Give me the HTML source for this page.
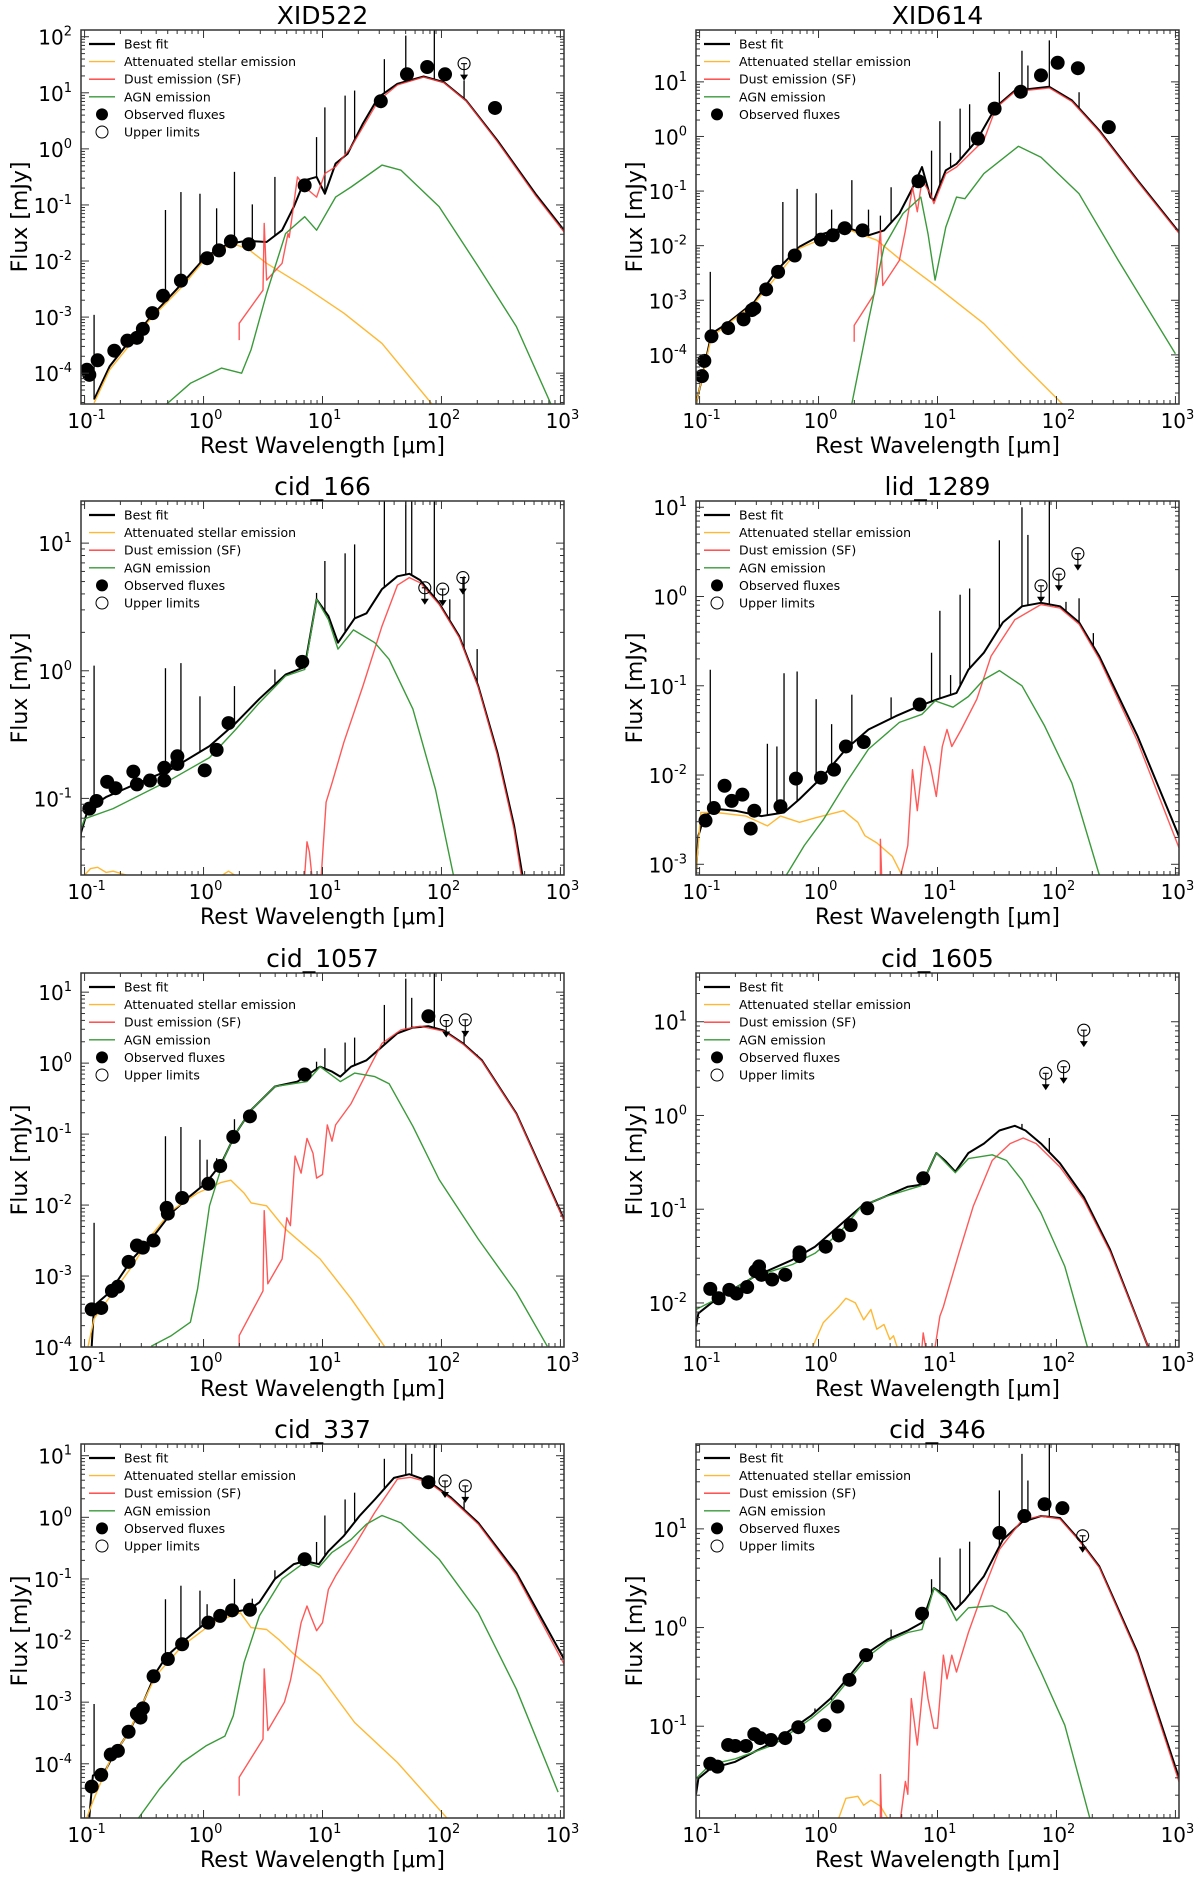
<!DOCTYPE html>
<html><head><meta charset="utf-8"><style>
html,body{margin:0;padding:0;background:#fff}
svg{display:block}
text{font-family:"DejaVu Sans","Liberation Sans",sans-serif;fill:#000}
</style></head><body>
<svg id="fig" width="1200" height="1881" viewBox="0 0 1200 1881" xmlns="http://www.w3.org/2000/svg"></svg>
<script>
// ---- data: [log10 wavelength (um), log10 flux (mJy)] ----
const p1Best=[[-0.92,-4.47],[-0.79,-3.88],[-0.66,-3.53],[-0.44,-2.99],[-0.18,-2.40],[0.02,-1.92],[0.21,-1.69],[0.37,-1.64],[0.53,-1.66],[0.66,-1.45],[0.76,-1.03],[0.85,-0.56],[0.95,-0.50],[1.02,-0.80],[1.11,-0.26],[1.21,-0.09],[1.34,0.45],[1.47,0.92],[1.63,1.16],[1.85,1.29],[2.02,1.19],[2.21,0.86],[2.47,0.15],[2.79,-0.80],[3.03,-1.45]];
const p1Dust=[[0.30,-3.41],[0.30,-3.11],[0.50,-2.52],[0.51,-1.33],[0.53,-2.34],[0.66,-2.04],[0.71,-1.51],[0.72,-1.58],[0.79,-0.50],[0.85,-0.68],[0.95,-0.86],[1.02,-0.44],[1.11,-0.32],[1.24,0.03],[1.47,0.86],[1.63,1.14],[1.85,1.28],[2.02,1.18],[2.21,0.85],[2.47,0.13],[2.79,-0.83],[3.03,-1.48]];
const p1Stellar=[[-0.92,-4.53],[-0.79,-3.94],[-0.44,-3.02],[-0.18,-2.46],[0.02,-1.95],[0.24,-1.69],[0.37,-1.78],[0.53,-2.04],[0.85,-2.46],[1.18,-2.93],[1.5,-3.47],[1.92,-4.55]];
const p1Agn=[[-0.31,-4.55],[-0.11,-4.18],[0.15,-3.91],[0.32,-4.0],[0.40,-3.58],[0.53,-2.58],[0.69,-1.51],[0.85,-1.21],[0.95,-1.45],[1.11,-0.86],[1.24,-0.68],[1.5,-0.29],[1.66,-0.38],[1.98,-1.03],[2.31,-2.10],[2.63,-3.17],[2.92,-4.55]];
const p1Lines=[[-0.92,-2.96],[-0.32,-1.09],[-0.19,-0.77],[-0.03,-0.80],[0.11,-1.06],[0.26,-0.41],[0.41,-0.99],[0.60,-0.50],[0.95,0.21],[1.02,0.74],[1.19,0.95],[1.27,1.04],[1.52,1.60],[1.70,2.02],[1.94,2.2],[2.19,1.22]];
const p1Obs=[[-0.98,-3.94],[-0.96,-4.03],[-0.89,-3.77],[-0.75,-3.6],[-0.64,-3.42],[-0.56,-3.37],[-0.51,-3.21],[-0.43,-2.93],[-0.34,-2.62],[-0.19,-2.35],[0.03,-1.95],[0.13,-1.81],[0.23,-1.65],[0.38,-1.70],[0.85,-0.65],[1.49,0.85],[1.71,1.33],[1.88,1.46],[2.03,1.33],[2.45,0.73]];
const p1Upper=[[2.19,1.52]];

const p2Best=[[-1.03,-4.9],[-0.99,-4.52],[-0.9,-3.61],[-0.77,-3.43],[-0.54,-3.03],[-0.35,-2.45],[-0.16,-2.02],[0.04,-1.78],[0.23,-1.66],[0.42,-1.81],[0.55,-1.72],[0.68,-1.41],[0.78,-0.99],[0.87,-0.56],[0.94,-1.11],[0.97,-1.17],[1.07,-0.62],[1.16,-0.5],[1.33,-0.07],[1.49,0.54],[1.65,0.84],[1.94,0.91],[2.13,0.66],[2.36,0.11],[2.68,-0.80],[3.04,-1.78]];
const p2Dust=[[0.30,-3.76],[0.30,-3.46],[0.47,-2.88],[0.52,-1.72],[0.54,-2.73],[0.68,-2.27],[0.73,-1.72],[0.79,-0.93],[0.83,-1.38],[0.87,-0.80],[0.94,-1.05],[0.97,-1.23],[1.07,-0.68],[1.16,-0.56],[1.39,-0.07],[1.49,0.52],[1.65,0.82],[1.94,0.89],[2.13,0.64],[2.36,0.09],[2.68,-0.82],[3.04,-1.80]];
const p2Stellar=[[-1.03,-4.9],[-0.9,-3.67],[-0.54,-3.06],[-0.16,-2.05],[0.23,-1.69],[0.49,-1.9],[0.68,-2.24],[1.0,-2.76],[1.39,-3.43],[1.71,-4.16],[2.05,-4.9]];
const p2Agn=[[0.28,-4.9],[0.42,-3.37],[0.55,-2.02],[0.71,-1.41],[0.86,-1.11],[0.92,-1.78],[0.98,-2.63],[1.07,-1.66],[1.16,-1.11],[1.23,-1.14],[1.39,-0.68],[1.68,-0.18],[1.87,-0.38],[2.19,-1.05],[2.52,-2.27],[3.0,-3.98]];
const p2Lines=[[-0.91,-2.48],[-0.3,-1.2],[-0.18,-0.96],[-0.02,-1.04],[0.11,-1.34],[0.28,-0.80],[0.42,-1.34],[0.52,-1.45],[0.61,-0.93],[0.95,-0.26],[1.02,0.28],[1.11,-0.3],[1.19,0.51],[1.27,0.59],[1.52,1.18],[1.71,1.57],[1.76,1.3],[1.94,1.76],[2.19,0.81]];
const p2Obs=[[-0.98,-4.39],[-0.96,-4.11],[-0.9,-3.66],[-0.76,-3.51],[-0.63,-3.35],[-0.56,-3.18],[-0.54,-3.15],[-0.44,-2.8],[-0.34,-2.48],[-0.2,-2.18],[0.02,-1.89],[0.12,-1.81],[0.22,-1.68],[0.37,-1.72],[0.84,-0.82],[1.34,-0.04],[1.48,0.51],[1.7,0.82],[1.87,1.12],[2.01,1.35],[2.18,1.25],[2.44,0.17]];
const p2Upper=[];

const p3Best=[[-1.05,-1.6],[-1.03,-1.27],[-0.97,-1.08],[-0.82,-0.99],[-0.6,-0.9],[-0.27,-0.77],[0.05,-0.59],[0.27,-0.41],[0.47,-0.22],[0.69,-0.03],[0.85,0.03],[0.95,0.56],[1.05,0.43],[1.13,0.22],[1.27,0.41],[1.37,0.45],[1.5,0.64],[1.63,0.74],[1.73,0.76],[1.82,0.71],[1.98,0.53],[2.15,0.27],[2.31,-0.12],[2.47,-0.64],[2.61,-1.21],[2.68,-1.6]];
const p3Dust=[[0.85,-1.6],[0.87,-1.34],[0.89,-1.42],[0.91,-1.6],[0.99,-1.6],[1.03,-1.03],[1.08,-0.88],[1.18,-0.56],[1.34,-0.12],[1.5,0.35],[1.63,0.67],[1.73,0.73],[1.82,0.69],[1.98,0.52],[2.15,0.26],[2.31,-0.13],[2.47,-0.66],[2.61,-1.24],[2.67,-1.6]];
const p3Stellar=[[-1.0,-1.6],[-0.95,-1.55],[-0.89,-1.54],[-0.82,-1.58],[-0.76,-1.57],[-0.65,-1.6]];
const p3Stellar2=[[0.16,-1.6],[0.21,-1.57],[0.26,-1.6]];
const p3Agn=[[-1.05,-1.29],[-1.0,-1.16],[-0.76,-1.08],[-0.27,-0.85],[0.05,-0.68],[0.27,-0.46],[0.47,-0.25],[0.69,-0.04],[0.85,0.01],[0.95,0.56],[1.05,0.40],[1.13,0.17],[1.26,0.32],[1.44,0.22],[1.56,0.09],[1.76,-0.30],[1.95,-0.93],[2.1,-1.6]];
const p3Lines=[[-0.92,0.04],[-0.32,0.02],[-0.19,0.06],[-0.03,-0.2],[0.26,-0.12],[0.6,0.01],[0.95,0.61],[1.02,0.86],[1.19,0.92],[1.27,0.99],[1.52,1.4],[1.7,1.4],[1.75,1.4],[1.94,1.4],[2.07,0.56],[2.19,0.74],[2.3,0.17]];
const p3Obs=[[-0.96,-1.08],[-0.9,-1.02],[-0.81,-0.87],[-0.74,-0.92],[-0.59,-0.79],[-0.56,-0.89],[-0.45,-0.86],[-0.33,-0.86],[-0.33,-0.76],[-0.22,-0.67],[-0.22,-0.73],[0.01,-0.78],[0.11,-0.62],[0.21,-0.41],[0.83,0.07]];
const p3Upper=[[1.86,0.65],[2.01,0.64],[2.18,0.73]];

const p4Best=[[-1.03,-3.09],[-1.01,-2.68],[-0.96,-2.46],[-0.86,-2.38],[-0.7,-2.4],[-0.48,-2.46],[-0.29,-2.42],[-0.16,-2.27],[0.04,-2.01],[0.23,-1.71],[0.42,-1.49],[0.65,-1.34],[0.84,-1.23],[1.0,-1.15],[1.16,-1.08],[1.26,-0.82],[1.39,-0.63],[1.55,-0.29],[1.71,-0.11],[1.87,-0.07],[2.03,-0.11],[2.19,-0.29],[2.36,-0.67],[2.68,-1.56],[3.04,-2.72]];
const p4Dust=[[0.52,-3.12],[0.52,-2.72],[0.53,-3.12],[0.69,-3.12],[0.71,-3.02],[0.75,-2.79],[0.79,-1.94],[0.83,-2.4],[0.89,-1.68],[0.94,-1.9],[0.99,-2.24],[1.04,-1.68],[1.08,-1.49],[1.12,-1.68],[1.2,-1.49],[1.33,-1.15],[1.45,-0.67],[1.65,-0.26],[1.87,-0.09],[2.03,-0.13],[2.19,-0.31],[2.36,-0.70],[2.68,-1.62],[3.04,-2.85]];
const p4Stellar=[[-1.03,-3.09],[-0.99,-2.42],[-0.86,-2.42],[-0.61,-2.46],[-0.43,-2.57],[-0.32,-2.46],[-0.16,-2.53],[-0.03,-2.48],[0.21,-2.4],[0.33,-2.53],[0.39,-2.68],[0.49,-2.76],[0.62,-2.91],[0.7,-3.12]];
const p4Agn=[[-0.27,-3.12],[-0.12,-2.79],[0.04,-2.5],[0.23,-2.09],[0.42,-1.71],[0.68,-1.41],[0.87,-1.32],[0.98,-1.17],[1.13,-1.24],[1.26,-1.12],[1.39,-0.93],[1.52,-0.83],[1.71,-1.0],[1.9,-1.45],[2.13,-2.09],[2.36,-3.12]];
const p4Lines=[[-0.91,-0.82],[-0.43,-1.65],[-0.35,-1.68],[-0.29,-0.86],[-0.18,-0.84],[-0.02,-1.15],[0.11,-1.43],[0.28,-1.1],[0.61,-1.13],[0.95,-0.63],[1.02,-0.16],[1.11,-0.88],[1.19,0.02],[1.27,0.09],[1.52,0.63],[1.71,1.0],[1.76,0.69],[1.94,1.07],[2.08,-0.06],[2.19,-0.02],[2.31,-0.41]];
const p4Obs=[[-0.95,-2.51],[-0.88,-2.37],[-0.79,-2.12],[-0.73,-2.29],[-0.64,-2.22],[-0.57,-2.6],[-0.54,-2.4],[-0.32,-2.35],[-0.19,-2.04],[0.02,-2.03],[0.13,-1.94],[0.23,-1.68],[0.38,-1.63],[0.85,-1.21]];
const p4Upper=[[1.87,0.12],[2.02,0.25],[2.18,0.48]];

const p5Best=[[-0.94,-3.99],[-0.92,-3.42],[-0.79,-3.23],[-0.6,-2.76],[-0.44,-2.48],[-0.27,-2.11],[-0.11,-1.87],[0.02,-1.69],[0.15,-1.41],[0.27,-0.99],[0.4,-0.66],[0.6,-0.33],[0.79,-0.26],[0.87,-0.17],[0.98,-0.05],[1.08,-0.12],[1.15,-0.19],[1.24,-0.05],[1.37,0.04],[1.5,0.23],[1.63,0.42],[1.76,0.5],[1.89,0.52],[2.02,0.46],[2.18,0.28],[2.34,0.04],[2.63,-0.71],[3.03,-2.2]];
const p5Dust=[[0.3,-3.99],[0.3,-3.84],[0.5,-3.21],[0.51,-2.08],[0.54,-3.11],[0.66,-2.76],[0.7,-2.18],[0.73,-2.29],[0.77,-1.31],[0.82,-1.55],[0.87,-1.06],[0.92,-1.27],[0.95,-1.62],[1.0,-1.57],[1.04,-0.87],[1.08,-1.1],[1.11,-0.87],[1.24,-0.57],[1.37,-0.14],[1.5,0.28],[1.66,0.47],[1.82,0.52],[2.02,0.45],[2.18,0.27],[2.34,0.03],[2.63,-0.72],[3.03,-2.22]];
const p5Stellar=[[-0.97,-3.99],[-0.92,-3.6],[-0.76,-3.23],[-0.6,-2.86],[-0.44,-2.43],[-0.27,-2.08],[-0.05,-1.83],[0.15,-1.68],[0.23,-1.65],[0.34,-1.83],[0.4,-1.97],[0.53,-2.01],[0.69,-2.34],[0.98,-2.76],[1.24,-3.32],[1.52,-3.99]];
const p5Agn=[[-0.44,-3.99],[-0.27,-3.84],[-0.11,-3.65],[-0.05,-3.18],[0.05,-2.01],[0.18,-1.31],[0.27,-0.99],[0.4,-0.66],[0.6,-0.33],[0.87,-0.26],[0.98,-0.05],[1.15,-0.26],[1.27,-0.14],[1.44,-0.19],[1.56,-0.29],[1.76,-0.89],[1.98,-1.64],[2.31,-2.48],[2.63,-3.23],[2.89,-3.99]];
const p5Lines=[[-0.92,-2.25],[-0.32,-1.03],[-0.19,-0.9],[-0.03,-1.08],[0.03,-1.36],[0.11,-1.34],[0.26,-0.79],[0.95,0.02],[1.02,0.21],[1.19,0.29],[1.27,0.36],[1.52,0.82],[1.7,1.19],[1.75,0.92],[1.94,1.3],[2.19,0.44],[2.3,0.12]];
const p5Obs=[[-0.94,-3.47],[-0.86,-3.45],[-0.77,-3.21],[-0.72,-3.15],[-0.63,-2.8],[-0.56,-2.57],[-0.51,-2.6],[-0.42,-2.5],[-0.31,-2.04],[-0.3,-2.12],[-0.18,-1.9],[0.04,-1.7],[0.14,-1.45],[0.25,-1.04],[0.39,-0.75],[0.85,-0.16],[1.89,0.66]];
const p5Upper=[[2.04,0.6],[2.2,0.61]];

const p6Best=[[-1.03,-2.25],[-1.01,-2.11],[-0.86,-1.96],[-0.54,-1.72],[-0.22,-1.54],[-0.03,-1.4],[0.17,-1.18],[0.36,-0.97],[0.55,-0.87],[0.75,-0.76],[0.86,-0.74],[0.91,-0.62],[0.99,-0.4],[1.07,-0.49],[1.15,-0.6],[1.26,-0.4],[1.39,-0.3],[1.52,-0.16],[1.65,-0.11],[1.74,-0.16],[1.87,-0.3],[2.03,-0.51],[2.23,-0.87],[2.45,-1.43],[2.77,-2.47]];
const p6Dust=[[0.87,-2.47],[0.88,-2.32],[0.9,-2.47],[0.98,-2.47],[1.02,-2.14],[1.05,-2.04],[1.09,-1.86],[1.18,-1.47],[1.3,-0.97],[1.46,-0.48],[1.61,-0.3],[1.72,-0.24],[1.83,-0.3],[2.03,-0.55],[2.23,-0.9],[2.45,-1.45],[2.77,-2.47]];
const p6Stellar=[[-0.05,-2.47],[0.04,-2.21],[0.17,-2.04],[0.23,-1.95],[0.31,-2.0],[0.38,-2.18],[0.44,-2.07],[0.49,-2.28],[0.55,-2.23],[0.6,-2.39],[0.63,-2.35],[0.66,-2.47]];
const p6Agn=[[-1.03,-2.07],[-0.86,-1.96],[-0.54,-1.72],[-0.22,-1.59],[-0.03,-1.47],[0.17,-1.26],[0.36,-0.97],[0.55,-0.87],[0.86,-0.75],[0.91,-0.62],[0.99,-0.4],[1.15,-0.61],[1.26,-0.46],[1.46,-0.42],[1.58,-0.48],[1.71,-0.69],[1.87,-1.04],[2.07,-1.61],[2.26,-2.47]];
const p6Lines=[[1.71,-0.09],[1.94,-0.24]];
const p6Obs=[[-0.91,-1.85],[-0.84,-1.95],[-0.75,-1.86],[-0.69,-1.9],[-0.6,-1.83],[-0.53,-1.66],[-0.5,-1.61],[-0.48,-1.7],[-0.39,-1.75],[-0.28,-1.7],[-0.16,-1.46],[-0.16,-1.5],[0.06,-1.4],[0.17,-1.28],[0.27,-1.17],[0.41,-0.99],[0.88,-0.67]];
const p6Upper=[[1.91,0.45],[2.06,0.52],[2.23,0.91]];

const p7Best=[[-0.96,-4.87],[-0.93,-4.19],[-0.82,-4.09],[-0.76,-3.87],[-0.63,-3.49],[-0.53,-3.11],[-0.4,-2.52],[-0.31,-2.25],[-0.18,-2.03],[0.02,-1.71],[0.21,-1.55],[0.39,-1.49],[0.47,-1.38],[0.6,-1.0],[0.76,-0.76],[0.85,-0.71],[0.97,-0.76],[1.05,-0.55],[1.18,-0.3],[1.31,0.02],[1.44,0.29],[1.6,0.64],[1.73,0.7],[1.89,0.59],[2.08,0.32],[2.31,-0.09],[2.63,-0.9],[3.03,-2.3]];
const p7Dust=[[0.3,-4.52],[0.3,-4.22],[0.5,-3.6],[0.51,-2.46],[0.54,-3.46],[0.68,-3.0],[0.73,-2.65],[0.76,-2.36],[0.79,-2.03],[0.82,-1.71],[0.87,-1.44],[0.9,-1.6],[0.95,-1.84],[1.0,-1.71],[1.05,-1.17],[1.11,-0.95],[1.27,-0.46],[1.44,0.08],[1.63,0.62],[1.74,0.65],[1.89,0.57],[2.08,0.3],[2.31,-0.11],[2.63,-0.94],[3.03,-2.38]];
const p7Stellar=[[-0.98,-4.87],[-0.93,-4.61],[-0.79,-3.96],[-0.63,-3.49],[-0.4,-2.57],[-0.18,-2.09],[0.08,-1.71],[0.31,-1.55],[0.4,-1.79],[0.53,-1.82],[0.63,-1.98],[0.76,-2.22],[0.98,-2.57],[1.27,-3.33],[1.63,-3.98],[2.05,-4.89]];
const p7Agn=[[-0.55,-4.89],[-0.37,-4.41],[-0.18,-3.98],[0.02,-3.71],[0.18,-3.55],[0.25,-3.22],[0.34,-2.36],[0.47,-1.6],[0.66,-1.0],[0.85,-0.73],[0.97,-0.81],[1.08,-0.57],[1.24,-0.36],[1.37,-0.11],[1.5,0.03],[1.66,-0.09],[1.98,-0.68],[2.31,-1.55],[2.63,-2.79],[2.98,-4.46]];
const p7Lines=[[-0.92,-3.03],[-0.32,-1.33],[-0.19,-1.11],[-0.03,-1.19],[0.03,-1.41],[0.26,-1.0],[0.41,-1.32],[0.6,-0.86],[0.95,-0.4],[1.02,0.03],[1.19,0.29],[1.27,0.4],[1.52,0.95],[1.7,1.2],[1.75,1.03],[1.94,1.2],[2.19,0.26],[2.3,-0.1]];
const p7Obs=[[-0.94,-4.37],[-0.86,-4.18],[-0.78,-3.85],[-0.72,-3.79],[-0.63,-3.48],[-0.56,-3.19],[-0.53,-3.25],[-0.51,-3.1],[-0.42,-2.58],[-0.3,-2.3],[-0.18,-2.06],[0.04,-1.71],[0.14,-1.6],[0.24,-1.51],[0.39,-1.5],[0.85,-0.68],[1.89,0.57]];
const p7Upper=[[2.03,0.59],[2.2,0.51]];

const p8Best=[[-1.03,-1.69],[-1.01,-1.53],[-0.91,-1.43],[-0.7,-1.36],[-0.38,-1.16],[-0.06,-0.89],[0.1,-0.72],[0.26,-0.49],[0.42,-0.25],[0.58,-0.12],[0.75,-0.03],[0.87,0.05],[0.97,0.4],[1.07,0.32],[1.15,0.18],[1.23,0.28],[1.39,0.52],[1.55,0.89],[1.71,1.07],[1.87,1.13],[2.03,1.11],[2.19,0.89],[2.36,0.62],[2.68,-0.25],[3.04,-1.56]];
const p8Dust=[[0.52,-1.93],[0.52,-1.49],[0.53,-1.93],[0.69,-1.93],[0.73,-1.56],[0.75,-1.69],[0.78,-0.72],[0.83,-1.19],[0.89,-0.45],[0.92,-0.72],[0.97,-1.02],[1.0,-1.02],[1.05,-0.28],[1.08,-0.52],[1.12,-0.28],[1.16,-0.45],[1.26,-0.05],[1.39,0.39],[1.52,0.79],[1.71,1.09],[1.87,1.13],[2.03,1.1],[2.19,0.88],[2.36,0.61],[2.68,-0.27],[3.04,-1.6]];
const p8Stellar=[[0.17,-1.93],[0.23,-1.73],[0.33,-1.71],[0.38,-1.8],[0.44,-1.75],[0.52,-1.81],[0.58,-1.93]];
const p8Agn=[[-1.03,-1.53],[-0.91,-1.39],[-0.7,-1.33],[-0.38,-1.19],[-0.06,-0.92],[0.1,-0.76],[0.26,-0.52],[0.42,-0.29],[0.58,-0.14],[0.75,-0.05],[0.87,-0.02],[0.97,0.4],[1.07,0.29],[1.16,0.07],[1.26,0.2],[1.46,0.22],[1.58,0.15],[1.71,-0.05],[1.87,-0.45],[2.07,-0.99],[2.28,-1.93]];
const p8Lines=[[-0.03,-0.82],[0.11,-0.74],[0.61,-0.02],[0.95,0.49],[1.02,0.71],[1.19,0.8],[1.27,0.87],[1.52,1.39],[1.71,1.76],[1.76,1.49],[1.94,1.9],[2.31,0.7]];
const p8Obs=[[-0.91,-1.38],[-0.85,-1.41],[-0.76,-1.19],[-0.7,-1.2],[-0.61,-1.2],[-0.54,-1.08],[-0.49,-1.12],[-0.4,-1.14],[-0.28,-1.12],[-0.17,-1.01],[0.05,-0.99],[0.16,-0.8],[0.26,-0.53],[0.4,-0.28],[0.87,0.14],[1.52,0.96],[1.73,1.13],[1.9,1.25],[2.05,1.21]];
const p8Upper=[[2.22,0.93]];

const panelTitles=["XID522","XID614","cid_166","lid_1289","cid_1057","cid_1605","cid_337","cid_346"];
const yRanges=[[-4.55,2.12],[-4.9,1.95],[-1.6,1.33],[-3.12,1.07],[-4.0,1.27],[-2.47,1.52],[-4.88,1.19],[-1.93,1.86]];
const xTickExps=[-1,0,1,2,3];
const legendLabels=["Best fit","Attenuated stellar emission","Dust emission (SF)","AGN emission","Observed fluxes","Upper limits"];

const panels=[
 {best:p1Best,dust:p1Dust,st:[p1Stellar],agn:p1Agn,lines:p1Lines,obs:p1Obs,up:p1Upper},
 {best:p2Best,dust:p2Dust,st:[p2Stellar],agn:p2Agn,lines:p2Lines,obs:p2Obs,up:p2Upper,noUp:true},
 {best:p3Best,dust:p3Dust,st:[p3Stellar,p3Stellar2],agn:p3Agn,lines:p3Lines,obs:p3Obs,up:p3Upper},
 {best:p4Best,dust:p4Dust,st:[p4Stellar],agn:p4Agn,lines:p4Lines,obs:p4Obs,up:p4Upper},
 {best:p5Best,dust:p5Dust,st:[p5Stellar],agn:p5Agn,lines:p5Lines,obs:p5Obs,up:p5Upper},
 {best:p6Best,dust:p6Dust,st:[p6Stellar],agn:p6Agn,lines:p6Lines,obs:p6Obs,up:p6Upper},
 {best:p7Best,dust:p7Dust,st:[p7Stellar],agn:p7Agn,lines:p7Lines,obs:p7Obs,up:p7Upper},
 {best:p8Best,dust:p8Dust,st:[p8Stellar],agn:p8Agn,lines:p8Lines,obs:p8Obs,up:p8Upper}
];

const NS="http://www.w3.org/2000/svg";
const svg=document.getElementById('fig');
function mk(tag,attrs,parent){const e=document.createElementNS(NS,tag);for(const k in attrs)e.setAttribute(k,attrs[k]);(parent||svg).appendChild(e);return e;}
function interp(arr,x){if(x<arr[0][0]||x>arr[arr.length-1][0])return null;for(let i=1;i<arr.length;i++){if(x<=arr[i][0]){const a=arr[i-1],b=arr[i];const t=(b[0]-a[0])===0?0:(x-a[0])/(b[0]-a[0]);return a[1]+t*(b[1]-a[1]);}}return arr[arr.length-1][1];}
const XMIN=-1.03,XMAX=3.03,PW=483,PH=374;
const colX=[81,696],rowY=[30,501,973,1444];
const C={black:"#000",orange:"#ffb833",red:"#ff3b3b",green:"#3a9a3a"};

panels.forEach((p,i)=>{
 const x0=colX[i%2],y0=rowY[Math.floor(i/2)];
 const [ymin,ymax]=yRanges[i];
 const sx=v=>x0+(v-XMIN)/(XMAX-XMIN)*PW;
 const sy=v=>y0+(ymax-v)/(ymax-ymin)*PH;
 const g=mk('g',{});
 
 
 const cid='clip'+i;
 const cp=mk('clipPath',{id:cid},g);mk('rect',{x:x0,y:y0,width:PW,height:PH},cp);
 const plot=mk('g',{'clip-path':'url(#'+cid+')'},g);
 
 
 const path=(arr,col,w,name,op)=>{const e=mk('polyline',{points:arr.map(d=>sx(d[0]).toFixed(1)+','+sy(d[1]).toFixed(1)).join(' '),fill:'none',stroke:col,'stroke-width':w,'stroke-linejoin':'round','stroke-opacity':op||1},plot);return e;};
 path(p.best,C.black,2,'best-fit-line');
 p.lines.forEach(l=>{const base=interp(p.best,l[0]);if(base===null)return;const e=mk('line',{x1:sx(l[0]),x2:sx(l[0]),y1:sy(base),y2:sy(l[1]),stroke:'#000','stroke-width':1.3},plot);});
 p.st.forEach(s=>path(s,C.orange,1.4,'stellar-emission-line'));
 path(p.dust,C.red,1.4,'dust-emission-line',0.85);
 path(p.agn,C.green,1.4,'agn-emission-line');
 p.obs.forEach(o=>{const e=mk('circle',{cx:sx(o[0]),cy:sy(o[1]),r:7,fill:'#000'},plot);});
 p.up.forEach(u=>{const cx=sx(u[0]),cy=sy(u[1]);const ug=mk('g',{},plot);
  mk('circle',{cx:cx,cy:cy,r:6,fill:'none',stroke:'#000','stroke-width':1.1},ug);
  mk('line',{x1:cx-3,x2:cx+3,y1:cy,y2:cy,stroke:'#000','stroke-width':1.1},ug);
  mk('line',{x1:cx,x2:cx,y1:cy,y2:cy+12,stroke:'#000','stroke-width':1.1},ug);
  mk('polygon',{points:`${cx-4},${cy+11} ${cx+4},${cy+11} ${cx},${cy+17}`,fill:'#000'},ug);});
 const fr=mk('rect',{x:x0,y:y0,width:PW,height:PH,fill:'none',stroke:'#333','stroke-width':1.5},g);
 
 const tk=mk('g',{stroke:'#333','stroke-width':1},g);
 
 for(let d=-2;d<=3;d++){for(let k=1;k<=9;k++){const v=d+Math.log10(k);if(v<XMIN||v>XMAX)continue;const L=k===1?8:4;const X=sx(v);mk('line',{x1:X,x2:X,y1:y0+PH,y2:y0+PH-L},tk);mk('line',{x1:X,x2:X,y1:y0,y2:y0+L},tk);}}
 for(let d=Math.floor(ymin)-1;d<=Math.ceil(ymax);d++){for(let k=1;k<=9;k++){const v=d+Math.log10(k);if(v<ymin||v>ymax)continue;const L=k===1?8:4;const Y=sy(v);mk('line',{x1:x0,x2:x0+L,y1:Y,y2:Y},tk);mk('line',{x1:x0+PW,x2:x0+PW-L,y1:Y,y2:Y},tk);}}
 xTickExps.forEach(e=>{const t=mk('text',{x:sx(e)+2,y:y0+PH+24,'text-anchor':'middle','font-size':20},g);t.innerHTML='10<tspan dy="-9" font-size="13">'+e+'</tspan>';});
 for(let e=Math.ceil(ymin);e<=Math.floor(ymax);e++){const t=mk('text',{x:x0-9,y:sy(e)+8,'text-anchor':'end','font-size':20},g);t.innerHTML='10<tspan dy="-9" font-size="13">'+e+'</tspan>';}
 const tt=mk('text',{x:x0+PW/2,y:y0-6,'text-anchor':'middle','font-size':25},g);tt.textContent=panelTitles[i];
 const xl=mk('text',{x:x0+PW/2,y:y0+PH+49,'text-anchor':'middle','font-size':22},g);xl.textContent='Rest Wavelength [\u03bcm]';
 const yl=mk('text',{x:0,y:0,'text-anchor':'middle','font-size':22,transform:`translate(${x0-54},${y0+PH/2}) rotate(-90)`},g);yl.textContent='Flux [mJy]';
 const lg=mk('g',{},g);
 const n=p.noUp?5:6;
 for(let j=0;j<n;j++){const Y=y0+14+j*17.6;const it=mk('g',{},lg);
  if(j<4){const col=[C.black,C.orange,C.red,C.green][j];mk('line',{x1:x0+8,x2:x0+34,y1:Y,y2:Y,stroke:col,'stroke-width':j===0?2.2:1.4},it);}
  else if(j===4){mk('circle',{cx:x0+21,cy:Y,r:6,fill:'#000'},it);}
  else{mk('circle',{cx:x0+21,cy:Y,r:6,fill:'none',stroke:'#000','stroke-width':1},it);}
  const t=mk('text',{x:x0+43,y:Y+4.5,'font-size':12.5},it);t.textContent=legendLabels[j];}
});
</script>
</body></html>
